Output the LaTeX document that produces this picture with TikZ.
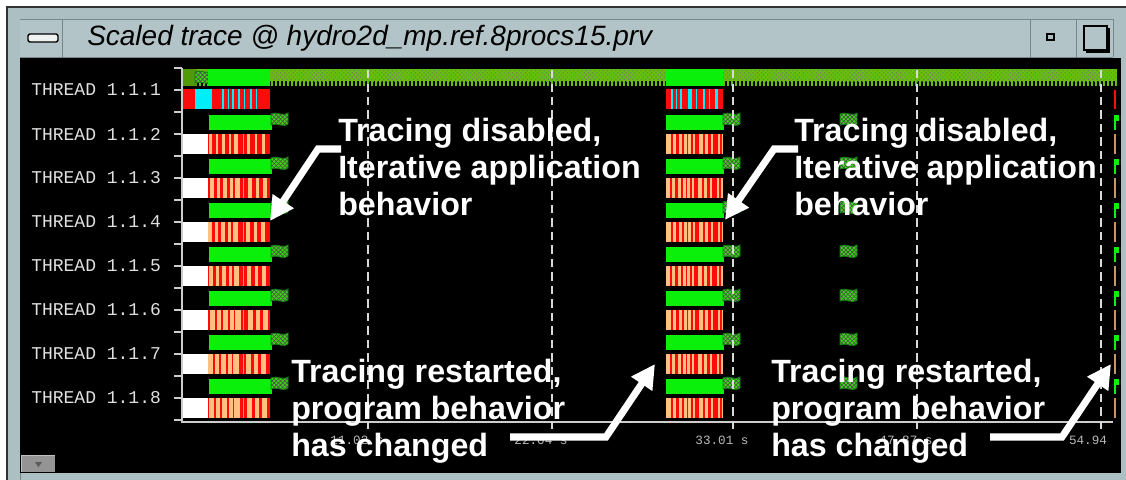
\documentclass[tikz,border=0pt]{standalone}
\usepackage{fontspec}
\setmainfont{Liberation Sans}
\newfontfamily\monofont{Liberation Mono}
\usetikzlibrary{arrows.meta,patterns}

\definecolor{framegray}{RGB}{172,191,195}
\definecolor{framedark}{RGB}{118,134,138}
\definecolor{barlime}{RGB}{10,240,10}
\definecolor{bandgreen}{RGB}{100,192,10}
\definecolor{flaggreen}{RGB}{60,215,20}
\definecolor{tracered}{RGB}{250,12,12}
\definecolor{tracecyan}{RGB}{0,238,250}
\definecolor{peach}{RGB}{255,192,128}
\definecolor{edgetan}{RGB}{200,150,100}
\definecolor{axisgray}{RGB}{205,205,205}

\tikzset{
  threadlabel/.style={font=\monofont\fontsize{12.8}{14}\selectfont, text=white!88!black, anchor=west, inner sep=0},
  ticklabel/.style={font=\monofont\fontsize{9}{10}\selectfont, text=white!72!black, inner sep=0},
  callout/.style={font=\bfseries\fontsize{22.9}{26.3}\selectfont, text=white, align=left, anchor=north west, inner sep=0},
  callarrow/.style={white, line width=5pt, -{Triangle[length=17pt,width=17pt]}},
  timeline/.style={white!85!black, line width=1.3pt, dash pattern=on 6pt off 3.6pt},
  chkflag/.pic={
    \filldraw[draw=black!45!green, fill=flaggreen, line width=0.6pt]
      (0,1) .. controls (6,-2) and (11,4) .. (17,0) -- (17,11) .. controls (11,15) and (6,9) .. (0,12) -- cycle;
    \fill[pattern=crosshatch, pattern color=black!70]
      (0,1) .. controls (6,-2) and (11,4) .. (17,0) -- (17,11) .. controls (11,15) and (6,9) .. (0,12) -- cycle;
  }
}

\begin{document}
\begin{tikzpicture}[x=0.025cm,y=-0.025cm]
	\useasboundingbox (0,0) rectangle (1126,480);
	\fill[white] (0,0) rectangle (1126,480);
	
	% window frame and title bar
	\fill[framegray] (7,7) rectangle (1126,480);
	\draw[black!80, line width=0.8pt] (7,480) -- (7,7) -- (1126,7);
	\draw[framedark, line width=0.6pt] (20,480) -- (20,19) -- (1113,19) -- (1113,57);
	\fill[framegray!92!white] (20,20) rectangle (1113,57);
	\draw[framedark, line width=0.6pt] (20,57) -- (1113,57);
	\draw[framedark, line width=0.6pt] (62,20) -- (62,57);
	\draw[framedark, line width=0.6pt] (1030,20) -- (1030,57);
	\draw[framedark, line width=0.6pt] (1076,20) -- (1076,57);
	\draw[black, fill=white!80!framegray, line width=1pt, rounded corners=1.5pt] (28,34) rectangle (58,42);
	\draw[black, fill=framegray, line width=1.6pt] (1047,34) rectangle (1054,40);
	\draw[black, line width=0.9pt] (1084,26) rectangle (1107,50);
	\draw[black, line width=1.6pt] (1086,52) -- (1109,52) -- (1109,28);
	\node[font=\itshape\fontsize{19.9}{22}\selectfont, anchor=west, inner sep=0] (title) at (87,38) {Scaled trace @ hydro2d\_mp.ref.8procs15.prv};
	
	% trace area
	\fill[black] (20,58) rectangle (1121,473);
	\fill[black!42] (21,455) rectangle (55,472);
	\draw[white!75!black, line width=0.6pt] (21,472) -- (21,455) -- (55,455);
	\fill[black!65] (35,462) -- (42,462) -- (38.5,467) -- cycle;
	
	% thread 1.1.1
	\fill[bandgreen] (183,69) rectangle (1117,81);
	\fill[pattern=crosshatch dots, pattern color=black!55] (183,69) rectangle (1117,81);
	\foreach \x in {184,188,...,1116}
		\draw[bandgreen, line width=0.8pt] (\x,81) -- (\x,86);
	\fill[bandgreen!80!black] (183,69) rectangle (197,86);
	\pic at (195,71) {chkflag};
	\fill[barlime] (208,69) rectangle (270,86);
	\fill[barlime] (666,69) rectangle (723,86);
	\fill[tracered] (183,89) rectangle (270,109);
	\fill[tracecyan] (195,89) rectangle (212,109);
	\foreach \a/\w in {222/2,228/1,232/2,238/2,244/1,250/2,256/1}
		\fill[tracecyan] (\a,89) rectangle (\a+\w,109);
	\fill[tracered] (666,89) rectangle (723,109);
	\foreach \a/\w in {671/2,676/1,680/2,688/4,696/1,703/2,709/1,715/3}
		\fill[tracecyan] (\a,89) rectangle (\a+\w,109);
	\draw[tracered, line width=1.4pt] (1115,90) -- (1115,109);
	
	% threads 1.1.2 to 1.1.8
	\foreach \k in {1,...,7}{
		\pgfmathsetmacro\yt{68+44*\k}
		\fill[barlime] (209,\yt+3) rectangle (272,\yt+18);
		\fill[barlime] (666,\yt+3) rectangle (724,\yt+18);
		\pic at (271,\yt+1) {chkflag};
		\pic at (723,\yt+1) {chkflag};
		\pic at (840,\yt+1) {chkflag};
		\fill[white] (183,\yt+22) rectangle (208,\yt+42);
		\fill[tracered] (208,\yt+22) rectangle (270,\yt+42);
		\foreach \a/\w in {208/3,215/2,221/3,228/2,233/4,246/3,254/2,261/3}
			\fill[peach] ({\a+mod(\k,3)},\yt+22) rectangle ({\a+mod(\k,3)+\w+\k/3},\yt+42);
		\fill[tracecyan] (243,\yt+22) rectangle (244,\yt+42);
		\fill[peach] (666,\yt+22) rectangle (723,\yt+42);
		\foreach \a/\w in {670/2,675/3,681/2,686/1,690/2,694/4,702/2,707/3,712/5,719/2}
			\fill[tracered] ({\a+mod(\k,2)},\yt+22) rectangle ({\a+mod(\k,2)+\w},\yt+42);
		\draw[edgetan, line width=1.4pt] (1115,\yt+22) -- (1115,\yt+42);
		\draw[barlime, line width=1.2pt] (1115,\yt+3) -- (1115,\yt+18);
		\fill[barlime] (1115,\yt+3) rectangle (1119,\yt+9);
	}
	
	% axes
	\draw[axisgray, line width=1.4pt] (182,68) -- (182,422) -- (1113,422);
	\foreach \j in {0,...,16}
		\draw[axisgray, line width=1pt] (174,68+22*\j) -- (182,68+22*\j);
	\foreach \x in {368,552,733,917,1101}
		\draw[timeline] (\x,70) -- (\x,432);
	
	\foreach \k in {1,...,8}
		\node[threadlabel] (thread\k) at (31,46+44*\k) {THREAD 1.1.\k};
	
	\node[ticklabel] (tick1) at (357,440) {11.02 s};
	\node[ticklabel] (tick2) at (541,440) {22.04 s};
	\node[ticklabel] (tick3) at (722,440) {33.01 s};
	\node[ticklabel] (tick4) at (906,440) {47.87 s};
	\node[ticklabel] (tick5) at (1088,440) {54.94};
	
	% annotations
	\node[callout] (disabledA) at (338,118) {Tracing disabled,\\Iterative application\\behavior};
	\node[callout] (disabledB) at (794,118) {Tracing disabled,\\Iterative application\\behavior};
	\node[callout] (restartA) at (291,359) {Tracing restarted,\\program behavior\\has changed};
	\node[callout] (restartB) at (771,359) {Tracing restarted,\\program behavior\\has changed};
	
	\coordinate (disabledA start) at (341,149);
	\coordinate (disabledA bend) at (318,149);
	\coordinate (disabledA tip) at (270,221);
	\coordinate (disabledB start) at (798,149);
	\coordinate (disabledB bend) at (774,149);
	\coordinate (disabledB tip) at (725,220);
	\coordinate (restartA start) at (510,437);
	\coordinate (restartA bend) at (606,437);
	\coordinate (restartA tip) at (655,364);
	\coordinate (restartB start) at (990,437);
	\coordinate (restartB bend) at (1062,437);
	\coordinate (restartB tip) at (1111,364);
	
	\draw[callarrow] (disabledA start) -- (disabledA bend) -- (disabledA tip);
	\draw[callarrow] (disabledB start) -- (disabledB bend) -- (disabledB tip);
	\draw[callarrow] (restartA start) -- (restartA bend) -- (restartA tip);
	\draw[callarrow] (restartB start) -- (restartB bend) -- (restartB tip);
\end{tikzpicture}
\end{document}
